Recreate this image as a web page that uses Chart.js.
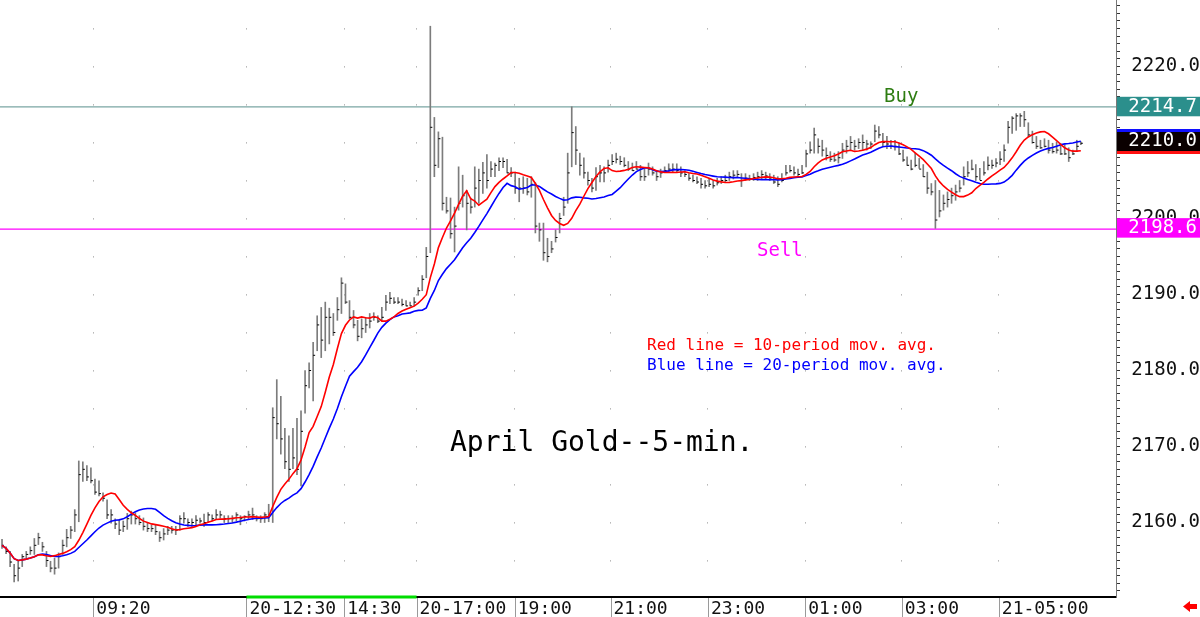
<!DOCTYPE html>
<html>
<head>
<meta charset="utf-8">
<script src="https://cdn.jsdelivr.net/npm/chart.js@4.4.1/dist/chart.umd.min.js"></script>
<style>
  html, body { margin: 0; padding: 0; background: #fff; }
  #wrap { width: 1200px; height: 617px; position: relative; }
</style>
</head>
<body>
<div id="wrap"><canvas id="goldChart"></canvas></div>
<script>
// April gold, 5-minute bars (high / low / close)
const highs = [
  2157.8, 2156.8, 2156.2, 2154.5, 2155, 2155.8, 2156.2, 2156.8, 2157.9, 2158.6,
  2157.4, 2156.2, 2154.9, 2155.3, 2156, 2157.7, 2159.1, 2159.5, 2161.7, 2168.1,
  2168, 2167.5, 2167.2, 2165.7, 2165.5, 2163.9, 2163, 2161.7, 2160.5, 2160.4,
  2160.2, 2161.2, 2161.5, 2161.3, 2160.9, 2160.6, 2159.9, 2159.7, 2159.7, 2158.8,
  2159.2, 2159.5, 2159.5, 2159.5, 2160.9, 2161.3, 2160.5, 2160.5, 2160.9, 2160.6,
  2161.1, 2161.3, 2161, 2161.7, 2161.5, 2160.9, 2160.9, 2160.9, 2161.3, 2160.9,
  2160.9, 2161.5, 2161.9, 2160.9, 2160.9, 2161.3, 2162.4, 2175.1, 2178.8, 2176.6,
  2172.4, 2171.4, 2172.4, 2173.7, 2174.7, 2180, 2181, 2183.7, 2187.2, 2188.3,
  2189, 2188.2, 2187.5, 2189.6, 2192.2, 2191.4, 2189.2, 2187.9, 2186.6, 2186.8,
  2187, 2187.5, 2187.6, 2187.2, 2188.3, 2189.9, 2190.3, 2189.6, 2189.6, 2189.4,
  2189.2, 2189, 2189.6, 2190.9, 2192.5, 2196.2, 2225.3, 2213.3, 2211.4, 2210.7,
  2202.8, 2202.7, 2201.5, 2206.8, 2205.7, 2203.7, 2202.7, 2206.8, 2206.5, 2207.4,
  2208.4, 2207.5, 2207.3, 2208, 2208, 2207.8, 2206.7, 2206.1, 2205.3, 2205.5,
  2205.3, 2205.5, 2204.7, 2199.4, 2199.4, 2197.4, 2197, 2198.5, 2200.7, 2202.8,
  2208.6, 2214.7, 2212.1, 2208.6, 2208, 2206.1, 2205.3, 2206.7, 2207, 2206.8,
  2207.7, 2208.4, 2208.6, 2208.2, 2208, 2207.5, 2207.3, 2207.5, 2207, 2206.5,
  2207.3, 2206.8, 2206.3, 2206.5, 2206.8, 2207.2, 2207.2, 2207.2, 2206.8, 2206.3,
  2205.9, 2205.7, 2205.5, 2205.3, 2205, 2205.3, 2205, 2205.3, 2205.5, 2205.7,
  2206.1, 2206.3, 2206.3, 2205.9, 2205.9, 2205.7, 2205.9, 2206.1, 2206.3, 2206.1,
  2205.9, 2205.7, 2205.5, 2205.9, 2207, 2207, 2206.8, 2206.5, 2207, 2209,
  2210.1, 2211.9, 2210.5, 2210.3, 2209.3, 2208.8, 2208.6, 2208.8, 2209.9, 2210.3,
  2210.8, 2210.3, 2210.5, 2211, 2210.3, 2210.1, 2212.3, 2212.1, 2211.2, 2210.8,
  2210.3, 2210.3, 2209.9, 2209, 2208.1, 2207.7, 2208.6, 2207.9, 2207.1, 2206.1,
  2204.6, 2205, 2203.7, 2203.1, 2203.5, 2204, 2204.4, 2205, 2206.8, 2207.5,
  2207.7, 2207.1, 2206.6, 2207.5, 2208.1, 2207.7, 2207.9, 2208.8, 2209.7, 2212.8,
  2213.4, 2213.8, 2213.8, 2214.1, 2212.6, 2211.5, 2210.8, 2210.3, 2210.5, 2210.3,
  2209.9, 2210.1, 2209.9, 2209.7, 2209.3, 2209, 2210.3, 2210.1
];
const lows = [
  2156.6, 2155.9, 2154.2, 2152.2, 2152.3, 2154.2, 2155.3, 2155.8, 2155.8, 2157.1,
  2156.2, 2154.2, 2153.5, 2153.2, 2154, 2155.8, 2156.8, 2157.9, 2158.8, 2160.1,
  2165.4, 2165.5, 2165.2, 2163.7, 2163.5, 2162.8, 2160.5, 2159.9, 2159.2, 2158.4,
  2158.8, 2159.1, 2159.8, 2159.8, 2159.7, 2159, 2158.8, 2158.8, 2158.4, 2157.5,
  2157.7, 2158.4, 2158.6, 2158.4, 2159, 2159.9, 2159.5, 2159.5, 2159.7, 2159.9,
  2159.5, 2160, 2160.2, 2160.4, 2160.6, 2160, 2160, 2160, 2160.2, 2159.7,
  2160.2, 2160.4, 2160.4, 2160.2, 2160, 2160, 2160.1, 2160, 2171, 2169,
  2167.1, 2165.4, 2167.1, 2166.3, 2164.8, 2174.4, 2177.7, 2176, 2182.6, 2181.7,
  2182.6, 2183.5, 2184.6, 2186.6, 2187.5, 2188.8, 2186.8, 2185.6, 2183.9, 2184.3,
  2185, 2185.6, 2186.6, 2186.3, 2186.6, 2187.9, 2188.8, 2188.8, 2188.8, 2188.5,
  2188.5, 2188.5, 2188.5, 2189.9, 2190.5, 2192.2, 2195.5, 2205.5, 2206.7, 2201.1,
  2200.7, 2197.4, 2195.6, 2201.1, 2201.5, 2198.5, 2200.7, 2201.5, 2202, 2203.3,
  2204, 2205.5, 2205.5, 2206.3, 2206.7, 2206, 2205.5, 2203.3, 2202.2, 2203.3,
  2203.1, 2202.8, 2198.1, 2197, 2194.5, 2194.3, 2195.5, 2196.9, 2198.1, 2200.4,
  2202, 2206.8, 2207.1, 2205.7, 2205.3, 2204.4, 2203.5, 2203.7, 2204.8, 2204.8,
  2206.1, 2207.1, 2207.3, 2207.1, 2206.8, 2206.3, 2206.3, 2206.5, 2205, 2205,
  2205.7, 2205.7, 2205, 2205.4, 2206.1, 2206.1, 2206.1, 2206.1, 2205.5, 2205.5,
  2205, 2204.8, 2204.6, 2204, 2204, 2204.2, 2204, 2204.4, 2204.6, 2204.8,
  2205, 2205.2, 2205.4, 2204.2, 2205, 2205, 2205, 2205, 2205.2, 2205.2,
  2205, 2204.6, 2204.2, 2204.8, 2205.7, 2206.1, 2205.7, 2205.4, 2205.9, 2206.8,
  2208.6, 2208.6, 2208.6, 2208.2, 2207.7, 2207.5, 2207.5, 2207.3, 2207.9, 2208.6,
  2209, 2209, 2209.2, 2209, 2209, 2209.2, 2210.1, 2210.6, 2209.5, 2209.2,
  2209.2, 2209, 2208.4, 2207.5, 2207, 2206.4, 2206.8, 2206.6, 2205.5, 2203.3,
  2203.1, 2198.7, 2200.2, 2201.1, 2201.5, 2202, 2202.4, 2203.5, 2204.4, 2205.5,
  2206.4, 2205, 2205.1, 2205.7, 2206.4, 2206.6, 2206.8, 2207.1, 2207.5, 2209.9,
  2211.2, 2211.6, 2212.1, 2212.1, 2210.8, 2209.9, 2209.2, 2209.2, 2209.4, 2208.6,
  2208.6, 2208.6, 2208.4, 2208.4, 2207.5, 2208.4, 2208.8, 2209.7
];
const closes = [
  2157, 2156.2, 2154.8, 2153, 2154, 2155.5, 2155.8, 2156.3, 2157, 2158,
  2156.8, 2155, 2154, 2154, 2155.5, 2157, 2158, 2159, 2161, 2166.3,
  2167, 2166, 2165.5, 2164, 2163.8, 2163.2, 2161, 2161, 2159.8, 2159,
  2159.5, 2160.5, 2161, 2160.5, 2160, 2159.5, 2159.2, 2159.2, 2158.8, 2158,
  2158.5, 2159, 2159, 2159, 2160.5, 2160.5, 2160, 2160, 2160.3, 2160.2,
  2160, 2161, 2160.5, 2161, 2161, 2160.5, 2160.5, 2160.5, 2161, 2160.5,
  2160.8, 2161, 2161, 2160.5, 2160.5, 2161, 2161, 2173.8, 2173, 2171,
  2168, 2167, 2168.5, 2167, 2172, 2178, 2180, 2182, 2186, 2184,
  2187, 2187, 2185, 2188, 2191.5, 2189, 2187, 2186, 2184.5, 2185.5,
  2186, 2186.5, 2187, 2186.5, 2187, 2189, 2189.5, 2189, 2189, 2188.7,
  2188.5, 2188.5, 2189, 2190.5, 2192, 2195, 2212, 2207, 2210.5, 2202,
  2201, 2198, 2199, 2202, 2203, 2202, 2201.5, 2204, 2205, 2206,
  2205, 2206.5, 2207, 2207.5, 2207.5, 2206, 2206, 2204, 2204, 2204,
  2203.5, 2204.5, 2199, 2198.5, 2195.5, 2195, 2196, 2197.5, 2200, 2201.5,
  2206, 2211.3, 2209, 2207, 2206, 2205, 2204, 2205.5, 2206, 2206,
  2207, 2207.5, 2207.8, 2207.5, 2207, 2206.5, 2206.3, 2206.5, 2205.5, 2205.5,
  2206.5, 2206, 2205.5, 2206, 2206.3, 2206.5, 2206.5, 2206.3, 2206, 2205.8,
  2205.3, 2205, 2204.8, 2204.5, 2204.3, 2204.5, 2204.3, 2204.7, 2205, 2205,
  2205.5, 2205.7, 2205.8, 2205, 2205.3, 2205.2, 2205.4, 2205.5, 2205.8, 2205.6,
  2205.2, 2204.8, 2204.5, 2205, 2206, 2206.3, 2206, 2205.8, 2206, 2208.5,
  2209, 2211, 2209.5, 2209, 2208.3, 2207.8, 2207.7, 2208, 2209, 2209.5,
  2210, 2209.5, 2210, 2210, 2209.8, 2209.8, 2211.5, 2211, 2210, 2209.8,
  2209.5, 2209.5, 2208.5, 2207.7, 2207, 2206.5, 2207, 2206.5, 2205.5, 2204,
  2203.5, 2199.8, 2201, 2202, 2202.5, 2203, 2203.5, 2204, 2205.5, 2206,
  2206.5, 2205.5, 2205, 2206, 2207, 2207, 2207.3, 2207.8, 2209, 2212,
  2213.2, 2213.5, 2213.5, 2213, 2211, 2210, 2209.5, 2209.3, 2209.5, 2209,
  2208.8, 2209, 2208.5, 2208.5, 2208, 2208.5, 2209.5, 2209.9
];

// time axis: bar positions of the labelled times
const timeTicks = [22.6, 60.5, 84.7, 102.6, 126.9, 150.6, 174.7, 198.8, 222.7, 246.7];
const timeLabels = ['09:20', '20-12:30', '14:30', '20-17:00', '19:00', '21:00', '23:00', '01:00', '03:00', '21-05:00'];
const sessionMark = [60.5, 102.6];   // green strip under the axis

// price axis
const priceLabels = [2160, 2170, 2180, 2190, 2200, 2210, 2220];
const yMin = 2150.2, yMax = 2228.75;
const xMin = -0.5, xMax = 275.7;

const buyLevel = 2214.7;
const sellLevel = 2198.6;
const lastPrice = 2210.0;

const mono = '"DejaVu Sans Mono", "Liberation Mono", monospace';

function movAvg(period) {
  return closes.map((c, i) => {
    const win = closes.slice(Math.max(0, i - period + 1), i + 1);
    return { x: i, y: win.reduce((a, b) => a + b, 0) / win.length };
  });
}

const minorTicks = [];
for (let v = Math.ceil(yMin); v <= Math.floor(yMax); v++) minorTicks.push(v);

function noPad(s) {
  s.paddingLeft = 0; s.paddingRight = 0; s.paddingTop = 0; s.paddingBottom = 0;
}

const overlay = {
  id: 'overlay',
  afterDraw(chart) {
    const ctx = chart.ctx, xs = chart.scales.x, ys = chart.scales.y, ca = chart.chartArea;
    const W = chart.width, H = chart.height;
    ctx.save();

    // separators between the time labels
    ctx.strokeStyle = '#9a9a9a';
    ctx.lineWidth = 1;
    timeTicks.forEach(v => {
      const px = Math.round(xs.getPixelForValue(v)) + 0.5;
      ctx.beginPath();
      ctx.moveTo(px, ca.bottom + 1);
      ctx.lineTo(px, H);
      ctx.stroke();
    });

    // green session strip
    ctx.strokeStyle = '#00dd00';
    ctx.lineWidth = 3;
    ctx.beginPath();
    ctx.moveTo(xs.getPixelForValue(sessionMark[0]), ca.bottom);
    ctx.lineTo(xs.getPixelForValue(sessionMark[1]), ca.bottom);
    ctx.stroke();

    // price flags on the right axis
    const x0 = ca.right + 1, bw = W - x0;
    ctx.font = '19px ' + mono;
    ctx.textAlign = 'right';
    ctx.textBaseline = 'middle';

    let y = ys.getPixelForValue(buyLevel);
    ctx.fillStyle = '#2b8f8c';
    ctx.fillRect(x0, y - 10, bw, 19.5);
    ctx.fillStyle = '#fff';
    ctx.fillText(buyLevel.toFixed(1), W - 3, y);

    y = ys.getPixelForValue(lastPrice);
    ctx.fillStyle = '#1010ff';
    ctx.fillRect(x0, y - 13.5, bw, 3);
    ctx.fillStyle = '#0a0000';
    ctx.fillRect(x0, y - 10.5, bw, 19);
    ctx.fillStyle = '#ff1010';
    ctx.fillRect(x0, y + 8.5, bw, 3);
    ctx.fillStyle = '#fff';
    ctx.fillText(lastPrice.toFixed(1), W - 3, y - 1);

    y = ys.getPixelForValue(sellLevel);
    ctx.fillStyle = '#ff00ff';
    ctx.fillRect(x0, y - 11, bw, 19.5);
    ctx.fillStyle = '#fff';
    ctx.fillText(sellLevel.toFixed(1), W - 3, y - 1);

    // notes on the chart
    ctx.textAlign = 'left';
    ctx.textBaseline = 'alphabetic';
    ctx.font = '19px ' + mono;
    ctx.fillStyle = '#2e7d12';
    ctx.fillText('Buy', 884, 102);
    ctx.fillStyle = '#ff00ff';
    ctx.fillText('Sell', 757, 256);

    ctx.textBaseline = 'middle';
    ctx.font = '16px ' + mono;
    ctx.fillStyle = '#ff0000';
    ctx.fillText('Red line = 10-period mov. avg.', 647, 346);
    ctx.fillStyle = '#0000ff';
    ctx.fillText('Blue line = 20-period mov. avg.', 647, 366);

    ctx.font = '28px ' + mono;
    ctx.fillStyle = '#000';
    ctx.fillText('April Gold--5-min.', 450, 444);

    // little red arrow, bottom right
    ctx.fillStyle = '#ff0000';
    ctx.beginPath();
    ctx.moveTo(1183, 606.5);
    ctx.lineTo(1190, 601);
    ctx.lineTo(1190, 604);
    ctx.lineTo(1197, 604);
    ctx.lineTo(1197, 609);
    ctx.lineTo(1190, 609);
    ctx.lineTo(1190, 612);
    ctx.closePath();
    ctx.fill();

    ctx.restore();
  }
};

new Chart(document.getElementById('goldChart'), {
  type: 'bar',
  data: {
    datasets: [
      {
        type: 'line', label: '10-period', data: movAvg(10),
        borderColor: '#ff0000', borderWidth: 1.6, pointRadius: 0, tension: 0
      },
      {
        type: 'line', label: '20-period', data: movAvg(20),
        borderColor: '#0000ff', borderWidth: 1.6, pointRadius: 0, tension: 0
      },
      {
        type: 'scatter', label: 'close', data: closes.map((c, i) => ({ x: i, y: c })),
        pointStyle: 'dash', pointRadius: 2, borderColor: '#000', backgroundColor: '#000', borderWidth: 1
      },
      {
        type: 'bar', label: 'range', data: highs.map((h, i) => ({ x: i, y: [lows[i], h] })),
        backgroundColor: '#7c7c7c', borderWidth: 0, barThickness: 1, grouped: false
      },
      {
        type: 'line', label: 'buy', data: [{ x: xMin, y: buyLevel }, { x: xMax, y: buyLevel }],
        borderColor: '#7aa6a3', borderWidth: 1.2, pointRadius: 0
      },
      {
        type: 'line', label: 'sell', data: [{ x: xMin, y: sellLevel }, { x: xMax, y: sellLevel }],
        borderColor: '#ff00ff', borderWidth: 1.2, pointRadius: 0
      }
    ]
  },
  options: {
    responsive: true,
    maintainAspectRatio: false,
    animation: false,
    layout: { padding: 0, autoPadding: false },
    plugins: { legend: { display: false }, tooltip: { enabled: false } },
    scales: {
      x: {
        type: 'linear', min: xMin, max: xMax, offset: false,
        afterBuildTicks: s => { s.ticks = timeTicks.map(v => ({ value: v })); },
        afterFit: s => { s.height = 20; noPad(s); },
        grid: { offset: false, drawOnChartArea: true, drawTicks: false, color: '#8c8c8c', lineWidth: 1 },
        border: { display: true, color: '#000', width: 2, dash: [1, 37], dashOffset: 9.6 },
        ticks: {
          autoSkip: false, maxRotation: 0, minRotation: 0, align: 'start', labelOffset: 3, padding: 2,
          font: { family: mono, size: 18 }, color: '#111',
          callback: (v, i) => timeLabels[i]
        }
      },
      y: {
        type: 'linear', position: 'right', min: yMin, max: yMax,
        afterBuildTicks: s => { s.ticks = minorTicks.map(v => ({ value: v })); },
        afterFit: s => { s.width = 84; noPad(s); },
        grid: { drawOnChartArea: false, drawTicks: true, tickLength: 4, color: '#333' },
        border: { display: true, color: '#777', width: 1 },
        ticks: {
          autoSkip: false, padding: 6, crossAlign: 'far',
          font: { family: mono, size: 19 }, color: '#111',
          callback: v => priceLabels.includes(v) ? v.toFixed(1) : ''
        }
      }
    }
  },
  plugins: [overlay]
});
</script>
</body>
</html>
